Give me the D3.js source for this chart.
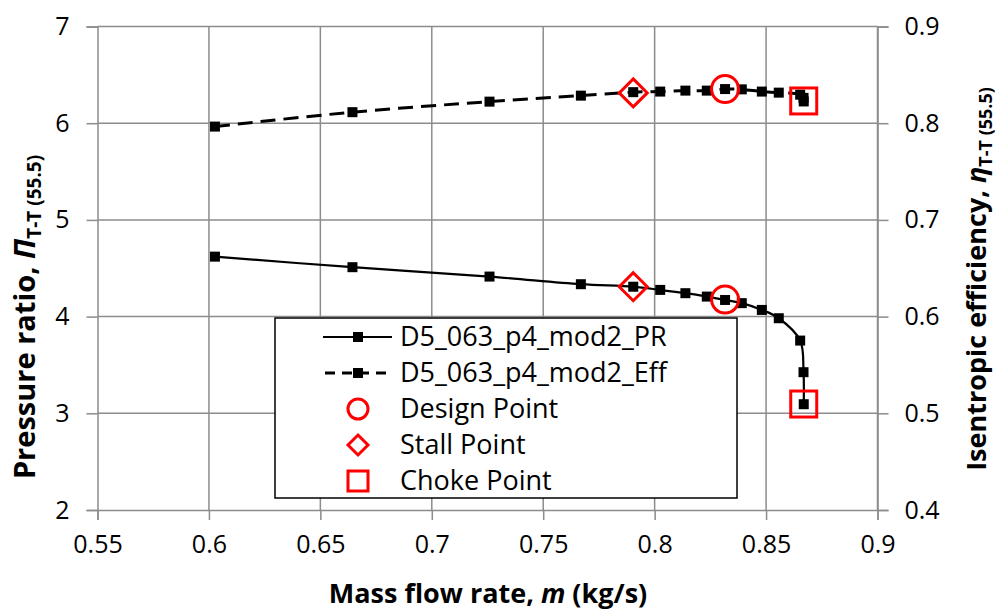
<html lang="en">
<head>
<meta charset="UTF-8">
<script src="https://d3js.org/d3.v7.min.js"></script>
<style>
  body { margin: 0; background: #fff; }
  text { font-family: "Open Sans", sans-serif; }
</style>
</head>
<body>
<div id="chart"></div>
<script>
// data
const massFlow = [0.6027, 0.6644, 0.7259, 0.7669, 0.7904, 0.8025, 0.8138, 0.8234, 0.8316, 0.8391, 0.8481, 0.8557, 0.8653, 0.8668, 0.8669];
const pressureRatio = [4.620, 4.511, 4.414, 4.335, 4.309, 4.276, 4.242, 4.207, 4.172, 4.139, 4.069, 3.983, 3.752, 3.425, 3.094];
const efficiency = [0.7965, 0.8114, 0.8223, 0.8285, 0.8321, 0.8327, 0.8337, 0.8337, 0.8353, 0.8350, 0.8327, 0.8316, 0.8295, 0.8262, 0.8225];

const designPoint = { m: 0.8316, pr: 4.176, eff: 0.8353 };
const stallPoint = { m: 0.7904, pr: 4.309, eff: 0.8313 };
const chokePoint = { m: 0.8669, pr: 3.096, eff: 0.8230 };

const xTicks = [0.55, 0.6, 0.65, 0.7, 0.75, 0.8, 0.85, 0.9];
const prTicks = [2, 3, 4, 5, 6, 7];
const effTicks = [0.4, 0.5, 0.6, 0.7, 0.8, 0.9];

const legendNames = ["D5_063_p4_mod2_PR", "D5_063_p4_mod2_Eff", "Design Point", "Stall Point", "Choke Point"];

const width = 997, height = 611;
const grid = "#8c8c8c";

const svg = d3.select("#chart").append("svg")
  .attr("width", width)
  .attr("height", height);

const x = d3.scaleLinear().domain([0.55, 0.9]).range([97.5, 877.5]);
const yL = d3.scaleLinear().domain([2, 7]).range([510, 26.5]);
const yR = d3.scaleLinear().domain([0.4, 0.9]).range([510, 26.5]);

// grid
svg.append("g").selectAll("line").data(xTicks.slice(1)).join("line")
  .attr("x1", d => x(d)).attr("x2", d => x(d))
  .attr("y1", yL(7)).attr("y2", yL(2))
  .attr("stroke", grid).attr("stroke-width", 1.5);
svg.append("g").selectAll("line").data(prTicks.slice(1)).join("line")
  .attr("x1", x(0.55)).attr("x2", x(0.9))
  .attr("y1", d => yL(d)).attr("y2", d => yL(d))
  .attr("stroke", grid).attr("stroke-width", 1.5);

// axes
const xAxis = svg.append("g")
  .attr("transform", `translate(0,${yL(2)})`)
  .call(d3.axisBottom(x).tickValues(xTicks).tickSize(10).tickPadding(17).tickFormat(d3.format("")));
const leftAxis = svg.append("g")
  .attr("transform", `translate(${x(0.55)},0)`)
  .call(d3.axisLeft(yL).tickValues(prTicks).tickSize(11).tickPadding(17).tickFormat(d3.format("d")));
const rightAxis = svg.append("g")
  .attr("transform", `translate(${x(0.9)},0)`)
  .call(d3.axisRight(yR).tickValues(effTicks).tickSize(11).tickPadding(16).tickFormat(d3.format(".1f")));

[xAxis, leftAxis, rightAxis].forEach(g => {
  g.select(".domain").attr("stroke", grid).attr("stroke-width", 1.5);
  g.selectAll(".tick line").attr("stroke", grid).attr("stroke-width", 1.5);
  g.selectAll(".tick text").attr("fill", "#000").style("font-size", "25px")
    .style("font-family", "'Open Sans', sans-serif");
});
xAxis.selectAll(".tick text").attr("dy", "0.62em");

// series
const curve = d3.curveCatmullRom.alpha(0.5);
const prLine = d3.line().x(d => x(d[0])).y(d => yL(d[1])).curve(curve);
const effLine = d3.line().x(d => x(d[0])).y(d => yR(d[1])).curve(curve);
const prData = massFlow.map((m, i) => [m, pressureRatio[i]]);
const effData = massFlow.map((m, i) => [m, efficiency[i]]);

svg.append("path").datum(prData).attr("d", prLine)
  .attr("fill", "none").attr("stroke", "#000").attr("stroke-width", 2.2);
svg.append("path").datum(effData).attr("d", effLine)
  .attr("fill", "none").attr("stroke", "#000").attr("stroke-width", 3)
  .attr("stroke-dasharray", "15,8");

const sq = 10;
svg.append("g").selectAll("rect").data(prData.concat(effData.map(d => [d[0], d[1], true]))).join("rect")
  .attr("x", d => x(d[0]) - sq / 2)
  .attr("y", d => (d[2] ? yR(d[1]) : yL(d[1])) - sq / 2)
  .attr("width", sq).attr("height", sq).attr("fill", "#000");

// special points
const red = "#ff0000";
function circleMark(g, cx, cy, r) {
  g.append("circle").attr("cx", cx).attr("cy", cy).attr("r", r)
    .attr("fill", "none").attr("stroke", red).attr("stroke-width", 3);
}
function diamondMark(g, cx, cy, h) {
  g.append("path").attr("d", `M${cx},${cy - h}L${cx + h},${cy}L${cx},${cy + h}L${cx - h},${cy}Z`)
    .attr("fill", "none").attr("stroke", red).attr("stroke-width", 3);
}
function squareMark(g, cx, cy, h) {
  g.append("rect").attr("x", cx - h).attr("y", cy - h).attr("width", 2 * h).attr("height", 2 * h)
    .attr("fill", "none").attr("stroke", red).attr("stroke-width", 3);
}
const marks = svg.append("g");
circleMark(marks, x(designPoint.m), yL(designPoint.pr), 13.5);
circleMark(marks, x(designPoint.m), yR(designPoint.eff), 13.5);
diamondMark(marks, x(stallPoint.m), yL(stallPoint.pr), 14);
diamondMark(marks, x(stallPoint.m), yR(stallPoint.eff), 14);
squareMark(marks, x(chokePoint.m), yL(chokePoint.pr), 13);
squareMark(marks, x(chokePoint.m), yR(chokePoint.eff), 13);

// legend
const lg = svg.append("g");
lg.append("rect").attr("x", 275).attr("y", 318).attr("width", 462).attr("height", 180)
  .attr("fill", "#fff").attr("stroke", "#000").attr("stroke-width", 1.5);
const rowY = i => 337 + i * 36;
legendNames.forEach((name, i) => {
  lg.append("text").attr("x", 400).attr("y", rowY(i)).attr("dy", "0.35em")
    .style("font-size", "27px").text(name);
});
lg.append("line").attr("x1", 323).attr("x2", 392).attr("y1", rowY(0)).attr("y2", rowY(0))
  .attr("stroke", "#000").attr("stroke-width", 2.2);
lg.append("line").attr("x1", 323).attr("x2", 392).attr("y1", rowY(1)).attr("y2", rowY(1))
  .attr("stroke", "#000").attr("stroke-width", 3).attr("stroke-dasharray", "10,7").attr("stroke-dashoffset", -2);
[0, 1].forEach(i => lg.append("rect").attr("x", 358 - sq / 2).attr("y", rowY(i) - sq / 2)
  .attr("width", sq).attr("height", sq).attr("fill", "#000"));
circleMark(lg, 358, rowY(2), 10);
diamondMark(lg, 358, rowY(3), 10);
squareMark(lg, 358, rowY(4), 10);

// axis titles
const xt = svg.append("text").attr("x", 488).attr("y", 603).attr("text-anchor", "middle")
  .style("font-size", "27px").style("font-weight", "bold");
xt.append("tspan").text("Mass flow rate, ");
xt.append("tspan").style("font-style", "italic").text("m");
xt.append("tspan").text(" (kg/s)");

function sideTitle(cx, cy, main, sym, size) {
  const t = svg.append("text")
    .attr("transform", `translate(${cx},${cy}) rotate(-90)`)
    .attr("text-anchor", "middle")
    .style("font-size", size + "px").style("font-weight", "bold");
  t.append("tspan").text(main);
  t.append("tspan").style("font-style", "italic").text(sym);
  t.append("tspan").attr("dy", "6").style("font-size", Math.round(size * 0.65) + "px").text("T-T (55.5)");
}
sideTitle(35, 317, "Pressure ratio, ", "\u03A0", 29);
sideTitle(986, 279, "Isentropic efficiency, ", "\u03B7", 27);
</script>
</body>
</html>
